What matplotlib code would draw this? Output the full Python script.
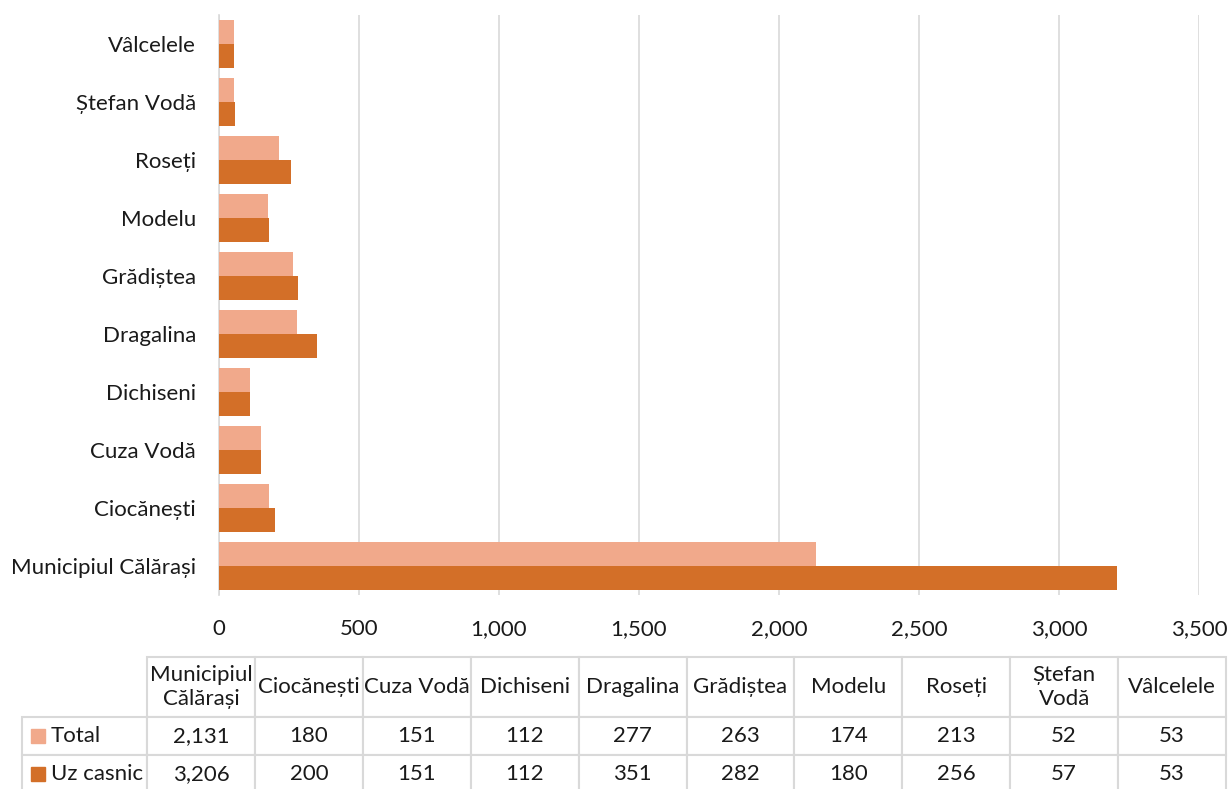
import matplotlib.pyplot as plt
from matplotlib.patches import Rectangle
from matplotlib.ticker import FuncFormatter
import numpy as np

# data
categories = ['Municipiul Călărași', 'Ciocănești', 'Cuza Vodă', 'Dichiseni', 'Dragalina',
              'Grădiștea', 'Modelu', 'Roseți', 'Ștefan Vodă', 'Vâlcelele']
table_headers = ['Municipiul\nCălărași', 'Ciocănești', 'Cuza Vodă', 'Dichiseni', 'Dragalina',
                 'Grădiștea', 'Modelu', 'Roseți', 'Ștefan\nVodă', 'Vâlcelele']
total = [2131, 180, 151, 112, 277, 263, 174, 213, 52, 53]
uz_casnic = [3206, 200, 151, 112, 351, 282, 180, 256, 57, 53]
series_names = ['Total', 'Uz casnic']

# styles
color_total = '#F1A98B'
color_uz = '#D36F28'
grid_color = '#D9D9D9'
text_color = '#1a1a1a'
font_size = 16
plt.rcParams['font.family'] = ['Lato', 'DejaVu Sans']

fig = plt.figure(figsize=(12.28, 7.89), dpi=100)
ax = fig.add_axes([219 / 1228, 1 - 595 / 789, (1199 - 219) / 1228, (595 - 15) / 789])

y = np.arange(len(categories))
bar_h = 0.41
ax.barh(y + bar_h / 2, total, height=bar_h, color=color_total, label=series_names[0], zorder=3)
ax.barh(y - bar_h / 2, uz_casnic, height=bar_h, color=color_uz, label=series_names[1], zorder=3)

ax.set_xlim(0, 3500)
ax.set_ylim(-0.5, len(categories) - 0.5)
ax.set_xticks(np.arange(0, 3501, 500))
ax.xaxis.set_major_formatter(FuncFormatter(lambda v, p: f'{int(v):,}'))
ax.set_yticks(y)
ax.set_yticklabels(categories)
ax.tick_params(axis='x', length=0, pad=17, labelsize=font_size, labelcolor=text_color)
ax.tick_params(axis='y', length=0, pad=16.5, labelsize=font_size, labelcolor=text_color)
ax.grid(axis='x', color=grid_color, linewidth=1.2, zorder=0)
for s in ['top', 'right', 'bottom']:
    ax.spines[s].set_visible(False)
ax.spines['left'].set_color(grid_color)
ax.spines['left'].set_linewidth(1.2)

# data table below the chart (pixel sizes of the cells), slightly cut at the bottom
label_w, col_w = 125, 107.9
header_h, row_h = 60, 38
grid_w = col_w * len(categories)
tab_h = header_h + 2 * row_h
tax = fig.add_axes([147 / 1228, (789 - 657 - tab_h) / 789, grid_w / 1228, tab_h / 789])
tax.axis('off')
cell_text = [[f'{v:,}' for v in total], [f'{v:,}' for v in uz_casnic]]
tab = tax.table(cellText=cell_text, rowLabels=series_names, colLabels=table_headers,
                cellLoc='center', rowLoc='left', colLoc='center', loc='lower left')
tab.AXESPAD = 0
tab._autoColumns = [c for c in tab._autoColumns if c != -1]  # keep fixed row-label width
tab.auto_set_font_size(False)
tab.set_fontsize(font_size)
for (r, c), cell in tab.get_celld().items():
    cell.set_edgecolor(grid_color)
    cell.set_linewidth(1.5)
    cell.set_width((label_w if c == -1 else col_w) / grid_w)
    cell.set_height((header_h if r == 0 else row_h) / tab_h)
    cell.get_text().set_color(text_color)
    cell.set_clip_on(False)
    if c == -1:
        cell.PAD = 0.23

# legend keys in row labels
key = 14
for i, col in enumerate([color_total, color_uz]):
    yc = (tab_h - header_h - row_h * (i + 0.5)) / tab_h
    tax.add_patch(Rectangle(((9 - label_w) / grid_w, yc - key / 2 / tab_h), key / grid_w, key / tab_h,
                            transform=tax.transAxes, color=col, zorder=10, clip_on=False))

fig.savefig('out.png', dpi=100)
